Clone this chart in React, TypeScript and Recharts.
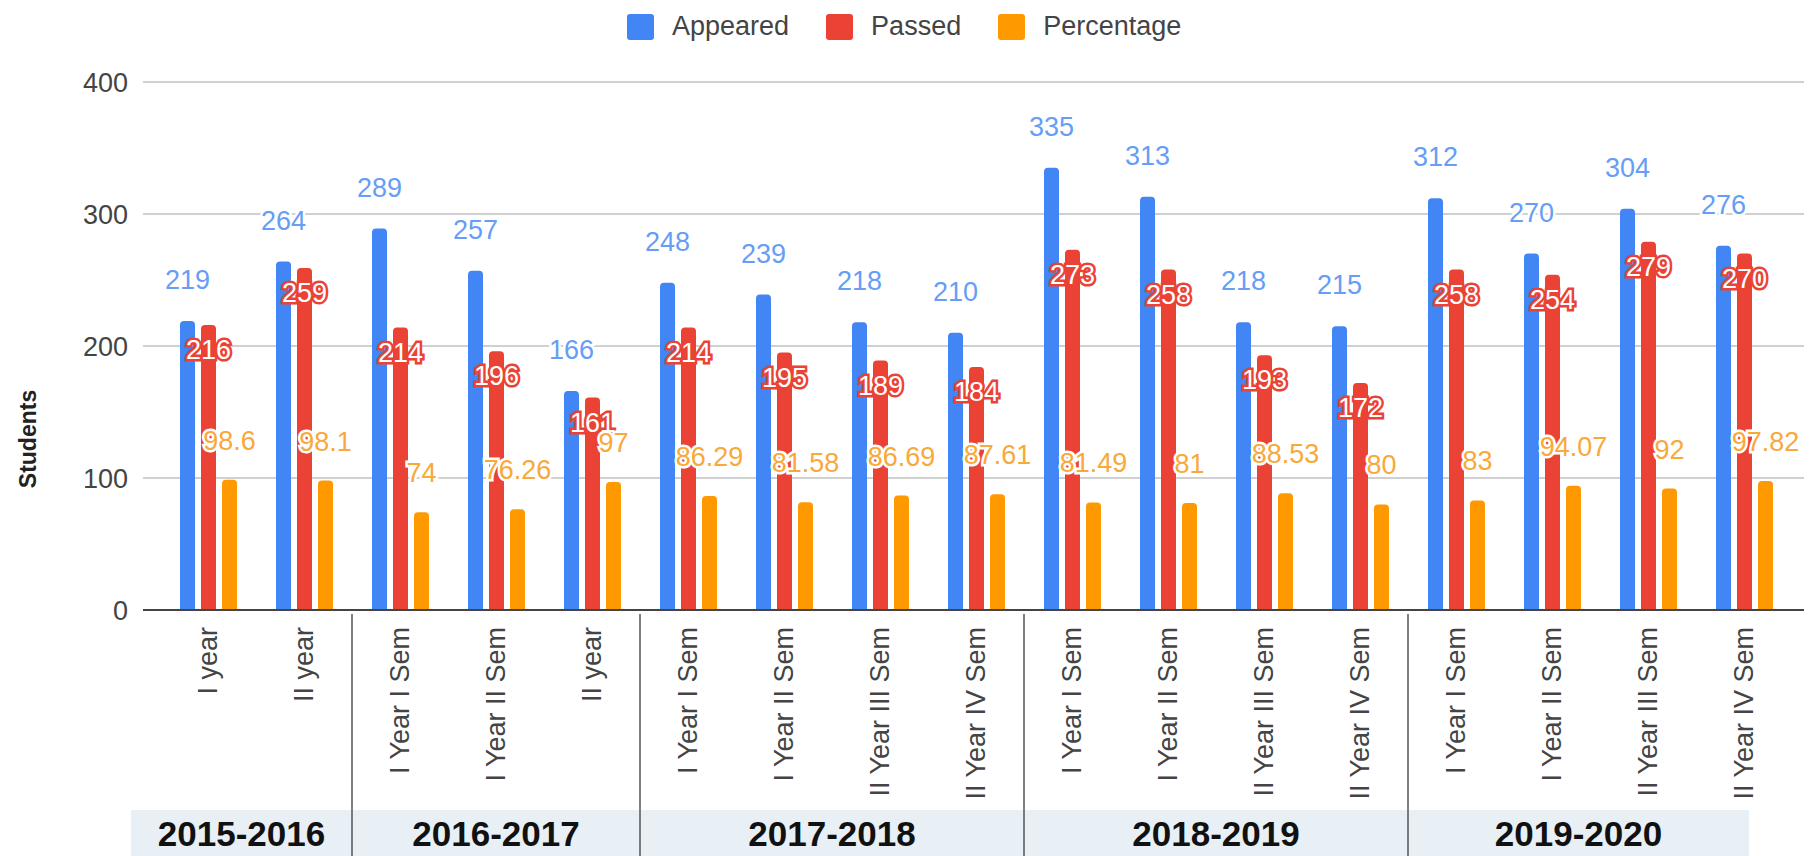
import React from "react";
import { BarChart, Bar, XAxis, YAxis, CartesianGrid, LabelList } from "recharts";

const categories = [
  "I year",
  "II year",
  "I Year I Sem",
  "I Year II Sem",
  "II year",
  "I Year I Sem",
  "I Year II Sem",
  "II Year III Sem",
  "II Year IV Sem",
  "I Year I Sem",
  "I Year II Sem",
  "II Year III Sem",
  "II Year IV Sem",
  "I Year I Sem",
  "I Year II Sem",
  "II Year III Sem",
  "II Year IV Sem",
];
const appeared = [219, 264, 289, 257, 166, 248, 239, 218, 210, 335, 313, 218, 215, 312, 270, 304, 276];
const passed = [216, 259, 214, 196, 161, 214, 195, 189, 184, 273, 258, 193, 172, 258, 254, 279, 270];
const percentage = [98.6, 98.1, 74, 76.26, 97, 86.29, 81.58, 86.69, 87.61, 81.49, 81, 88.53, 80, 83, 94.07, 92, 97.82];
const years = ["2015-2016", "2016-2017", "2017-2018", "2018-2019", "2019-2020"];
const yearSizes = [2, 3, 4, 4, 4];
const yTicks = [0, 100, 200, 300, 400];

const data = categories.map((name, i) => ({
  id: i,
  name,
  appeared: appeared[i],
  passed: passed[i],
  percentage: percentage[i],
}));

const FONT = "Arial, 'Liberation Sans', sans-serif";
const BLUE = "#4285f4";
const RED = "#ea4335";
const ORANGE = "#ff9900";

// which year group a category index sits in
function groupOf(i: number) {
  let start = 0;
  for (let g = 0; g < yearSizes.length; g++) {
    if (i < start + yearSizes[g]) return { g, start };
    start += yearSizes[g];
  }
  return { g: yearSizes.length - 1, start: start - yearSizes[yearSizes.length - 1] };
}

function CategoryTick(props: any) {
  const { x, y, payload } = props;
  const i = Number(payload.value);
  const half = payload.offset || 48;
  const { g, start } = groupOf(i);
  const first = i === start;
  let table = null;
  if (first) {
    let left = x - half;
    let right = x - half + yearSizes[g] * half * 2;
    if (g === 0) left -= 29;
    if (g === years.length - 1) right -= 43;
    table = (
      <g>
        <rect x={left} y={y + 200} width={right - left} height={46} fill="#e8eff5" />
        {g > 0 && <line x1={x - half} x2={x - half} y1={y + 4} y2={y + 246} stroke="#555" strokeWidth={1.5} />}
        <text
          x={(left + right) / 2}
          y={y + 236}
          textAnchor="middle"
          fontFamily={FONT}
          fontWeight="bold"
          fontSize={35}
          fill="#111"
        >
          {years[g]}
        </text>
      </g>
    );
  }
  return (
    <g>
      {table}
      <text
        transform={`translate(${x},${y + 17}) rotate(-90)`}
        textAnchor="end"
        dy="0.35em"
        fontFamily={FONT}
        fontSize={27}
        fill="#444"
      >
        {categories[i]}
      </text>
    </g>
  );
}

function StudentsLabel(props: any) {
  const vb = props.viewBox || { x: 0, y: 82, width: 143, height: 528 };
  const cx = 28;
  const cy = vb.y + vb.height / 2 + 93;
  return (
    <text
      transform={`translate(${cx},${cy}) rotate(-90)`}
      textAnchor="middle"
      dy="0.35em"
      fontFamily={FONT}
      fontWeight="bold"
      fontSize={23}
      fill="#222"
    >
      Students
    </text>
  );
}

const legendItems = [
  { name: "Appeared", color: BLUE },
  { name: "Passed", color: RED },
  { name: "Percentage", color: ORANGE },
];

function ChartLegend() {
  return (
    <div
      style={{
        position: "absolute",
        left: 627,
        top: 11,
        display: "flex",
        alignItems: "center",
        fontFamily: FONT,
        fontSize: 27,
        color: "#444",
      }}
    >
      {legendItems.map((it, k) => (
        <div key={it.name} style={{ display: "flex", alignItems: "center", marginRight: k < 2 ? 37 : 0 }}>
          <span
            style={{ width: 27, height: 26, background: it.color, borderRadius: 3, display: "inline-block", marginRight: 18 }}
          />
          <span>{it.name}</span>
        </div>
      ))}
    </div>
  );
}

export default function App() {
  return (
    <div style={{ position: "absolute", left: 0, top: 0, width: 1816, height: 856, background: "#fff" }}>
      <ChartLegend />
      <BarChart
        width={1816}
        height={856}
        data={data}
        margin={{ top: 82, right: 12, left: 0, bottom: 0 }}
        barSize={15}
        barGap={6}
      >
        <CartesianGrid vertical={false} stroke="#d0d0d0" strokeWidth={2} />
        <XAxis
          dataKey="id"
          type="category"
          height={246}
          interval={0}
          padding={{ left: 17, right: 12 }}
          tickLine={false}
          tickSize={0}
          tickMargin={0}
          axisLine={{ stroke: "#444", strokeWidth: 2 }}
          tick={<CategoryTick />}
        />
        <YAxis
          width={143}
          domain={[0, 400]}
          ticks={yTicks}
          axisLine={false}
          tickLine={false}
          tickSize={0}
          tickMargin={15}
          tick={{ fontFamily: FONT, fontSize: 27, fill: "#444" }}
          label={<StudentsLabel />}
        />
        <Bar dataKey="appeared" name="Appeared" fill={BLUE} radius={[4, 4, 0, 0]} isAnimationActive={false}>
          <LabelList
            dataKey="appeared"
            position="top"
            offset={32}
            fontFamily={FONT}
            fontSize={27}
            fill="#669df6"
            stroke="#fff"
            strokeWidth={5}
            paintOrder="stroke"
          />
        </Bar>
        <Bar dataKey="passed" name="Passed" fill={RED} radius={[4, 4, 0, 0]} isAnimationActive={false}>
          <LabelList
            dataKey="passed"
            position="insideTop"
            offset={15}
            fontFamily={FONT}
            fontSize={27}
            fill="#fff"
            stroke={RED}
            strokeWidth={5}
            paintOrder="stroke"
          />
        </Bar>
        <Bar dataKey="percentage" name="Percentage" fill={ORANGE} radius={[4, 4, 0, 0]} isAnimationActive={false}>
          <LabelList
            dataKey="percentage"
            position="top"
            offset={30}
            fontFamily={FONT}
            fontSize={27}
            fill="#f8a93a"
            stroke="#fff"
            strokeWidth={5}
            paintOrder="stroke"
          />
        </Bar>
      </BarChart>
    </div>
  );
}
